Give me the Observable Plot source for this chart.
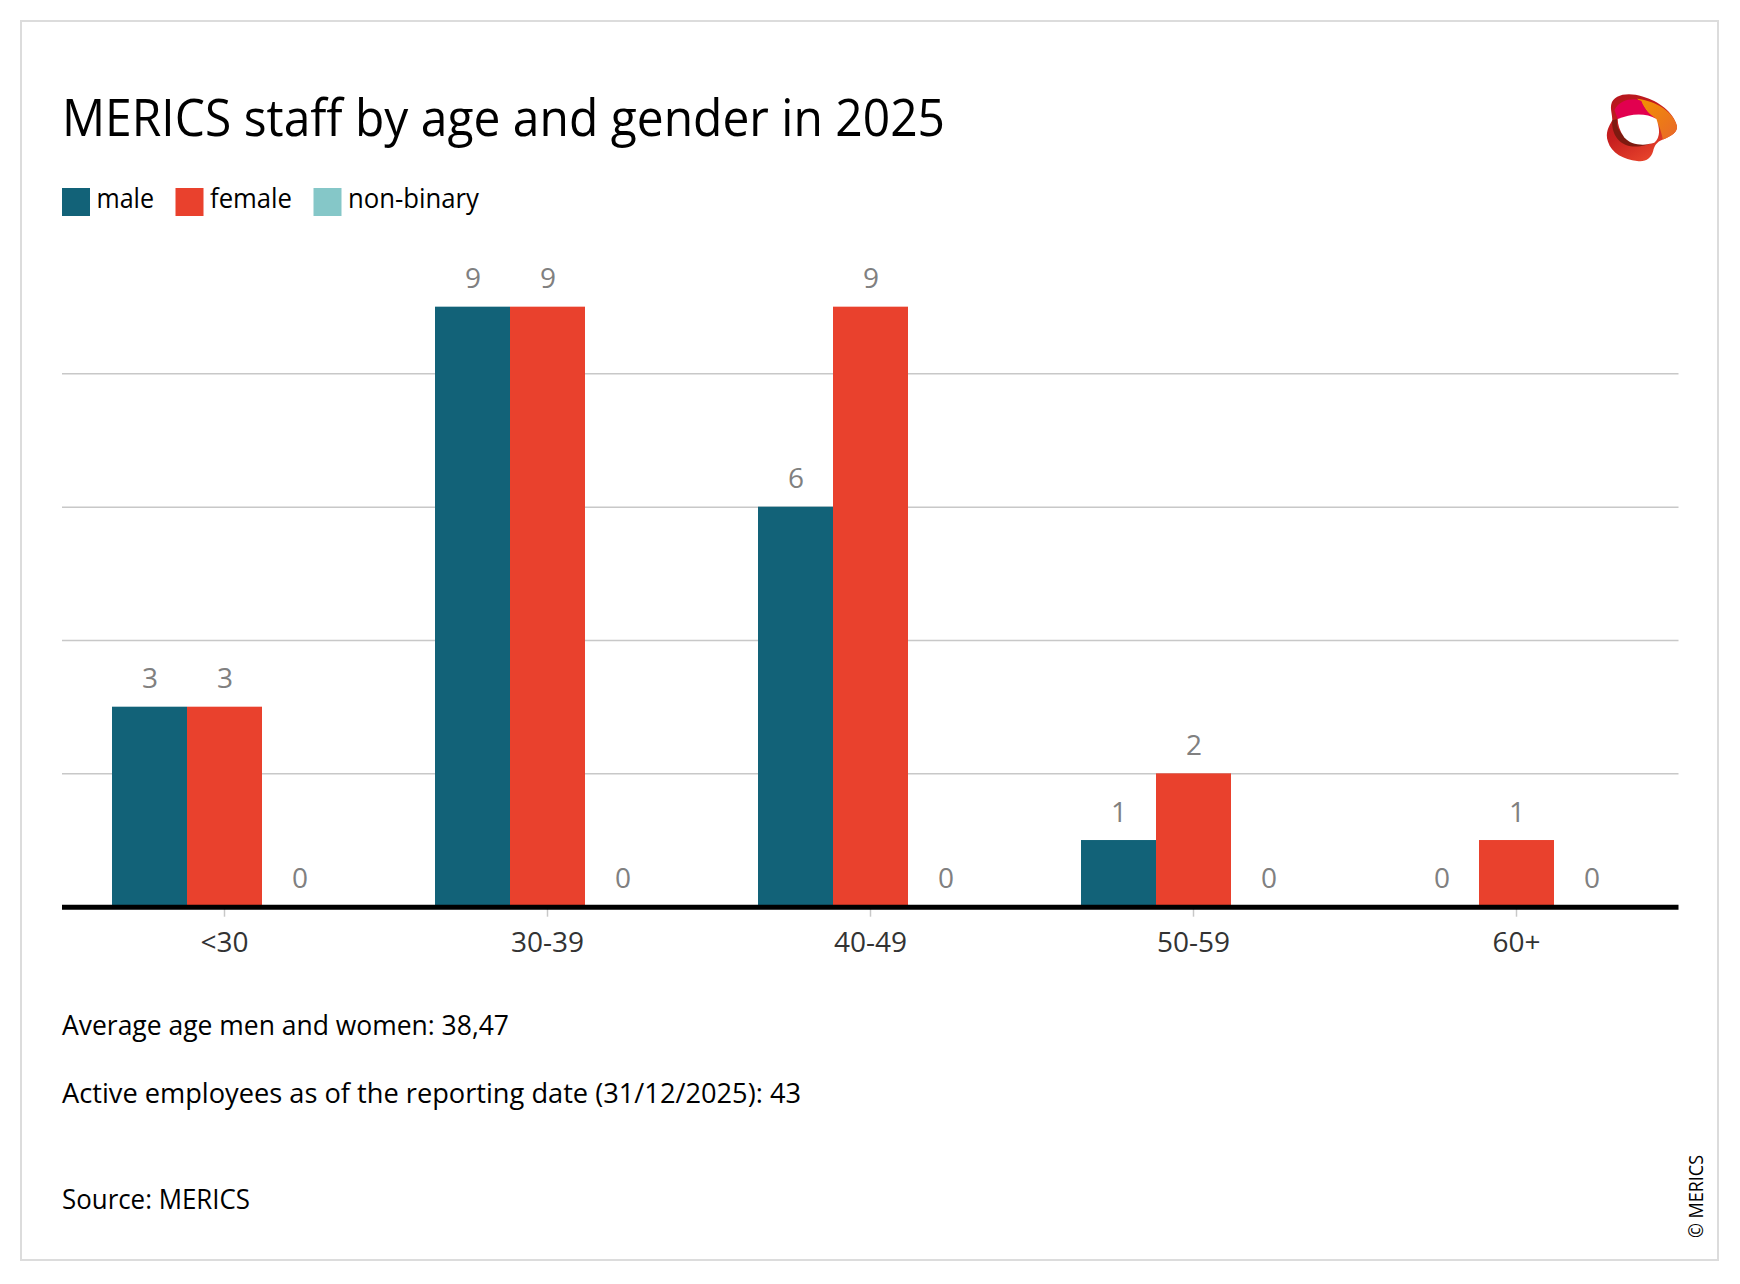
<!DOCTYPE html>
<html><head><meta charset="utf-8">
<script src="https://cdn.jsdelivr.net/npm/d3@7"></script>
<script src="https://cdn.jsdelivr.net/npm/@observablehq/plot@0.6"></script>
<style>
html,body{margin:0;padding:0;background:#fff;}
body{width:1740px;height:1284px;position:relative;overflow:hidden;font-family:"Open Sans",sans-serif;}
#frame{position:absolute;left:20px;top:20px;width:1695px;height:1237px;border:2px solid #dcdcdc;}
.layer{position:absolute;left:0;top:230px;}
.layer svg{display:block;}
#overlay{position:absolute;left:0;top:0;pointer-events:none;}
</style></head><body>
<div id="frame"></div>
<div id="grid" class="layer"></div>
<div id="chart" class="layer"></div>
<div id="base" class="layer"></div>
<svg id="overlay" width="1740" height="1284" xmlns="http://www.w3.org/2000/svg"></svg>
<script>
// ---- data ----
const ageGroups = ["<30", "30-39", "40-49", "50-59", "60+"];
const genders = ["male", "female", "non-binary"];
const genderColors = ["#126278", "#e9412d", "#85c7c8"];
const male = [3, 9, 6, 1, 0];
const female = [3, 9, 9, 2, 1];
const nonBinary = [0, 0, 0, 0, 0];
const yGrid = [2, 4, 6, 8];
const titleText = "MERICS staff by age and gender in 2025";
const noteLines = ["Average age men and women: 38,47", "Active employees as of the reporting date (31/12/2025): 43"];
const sourceText = "Source: MERICS";
const copyrightText = "© MERICS";

const seriesByGender = {"male": male, "female": female, "non-binary": nonBinary};
const rows = ageGroups.flatMap((g, i) => genders.map(s => ({group: g, gender: s, value: seriesByGender[s][i]})));

// ---- shared layout ----
const frameOpts = {
  width: 1740,
  height: 760,
  marginLeft: 62,
  marginRight: 61.5,
  marginTop: 10,
  marginBottom: 83.3,
  style: {fontFamily: "'Open Sans', sans-serif", background: "transparent", overflow: "visible"},
  y: {domain: [0, 10], axis: null}
};
const legendTextWidths = [57.5, 82, 131];

// background: horizontal gridlines
document.getElementById("grid").appendChild(Plot.plot({
  ...frameOpts,
  x: {axis: null},
  marks: [Plot.ruleY(yGrid, {stroke: "#c8c8c8", strokeWidth: 1.5})]
}));

// main: grouped bars
document.getElementById("chart").appendChild(Plot.plot({
  ...frameOpts,
  fx: {domain: ageGroups, paddingInner: 0.3, paddingOuter: 0.15, label: null},
  x: {domain: genders, padding: 0, axis: null},
  color: {domain: genders, range: genderColors},
  marks: [
    Plot.barY(rows, {fx: "group", x: "gender", y: "value", fill: "gender"}),
    Plot.text(rows, {fx: "group", x: "gender", y: "value", text: d => String(d.value), dy: -19, lineAnchor: "bottom", fill: "#808080", fontSize: 28}),
    Plot.axisFx({anchor: "bottom", tickSize: 10, tickPadding: 15, stroke: "#c8c8c8", strokeWidth: 1.5, fill: "#333", fontSize: 28, label: null})
  ]
}));

// foreground: zero baseline
document.getElementById("base").appendChild(Plot.plot({
  ...frameOpts,
  x: {axis: null},
  marks: [Plot.ruleY([0], {stroke: "#000", strokeWidth: 5})]
}));

// ---- overlay texts, legend, logo ----
const NS = "http://www.w3.org/2000/svg";
const ov = document.getElementById("overlay");
function addText(str, x, y, size, fill, target, attrs) {
  const t = document.createElementNS(NS, "text");
  t.textContent = str;
  t.setAttribute("x", x); t.setAttribute("y", y);
  t.setAttribute("font-size", size);
  t.setAttribute("font-family", "'Open Sans', sans-serif");
  t.setAttribute("fill", fill);
  if (attrs) for (const k in attrs) t.setAttribute(k, attrs[k]);
  ov.appendChild(t);
  if (target) {
    t.setAttribute("textLength", target);
    t.setAttribute("lengthAdjust", "spacingAndGlyphs");
  }
  return t;
}
addText(titleText, 62, 136, 52, "#000", 883);

// legend
let lx = 62;
genders.forEach((g, i) => {
  const r = document.createElementNS(NS, "rect");
  r.setAttribute("x", lx); r.setAttribute("y", 188);
  r.setAttribute("width", 28); r.setAttribute("height", 28);
  r.setAttribute("fill", genderColors[i]);
  ov.appendChild(r);
  addText(g, lx + 34.5, 208, 27, "#000", legendTextWidths[i]);
  lx += 34.5 + legendTextWidths[i] + 21.5;
});

addText(noteLines[0], 62, 1035, 27, "#000", 447);
addText(noteLines[1], 62, 1103, 27, "#000", 739);
addText(sourceText, 62, 1209, 27, "#000", 188);
addText(copyrightText, 0, 0, 20, "#000", 83, {transform: "translate(1703,1238) rotate(-90)"});

// logo (decorative)
const logo = document.createElementNS(NS, "g");
logo.setAttribute("transform", "translate(1600,85) translate(8,7) scale(1.077,1.13) translate(-13,-6)");
logo.innerHTML = `
<defs><linearGradient id="lg1" x1="0" y1="0" x2="0.6" y2="1">
<stop offset="0" stop-color="#b3141d"/><stop offset="0.55" stop-color="#c8201f"/><stop offset="1" stop-color="#e8452c"/></linearGradient>
<linearGradient id="lg2" x1="0" y1="0" x2="1" y2="1"><stop offset="0" stop-color="#f39200"/><stop offset="1" stop-color="#e8682a"/></linearGradient></defs>
<path d="M16,17 C18,8 32,6 45,10 C60,14 74,24 77,36 C78,41 72,45 64,48 C58,50 56,54 55,58 C53,65 48,68 40,67 C28,66 16,60 13,50 C10,42 14,36 17,31 C17,26 15,21 16,17 Z" fill="url(#lg1)"/>
<path d="M40,12 C58,14 74,24 77,36 C78,41 72,45 64,48 C62,40 60,32 54,28 C48,24 46,16 40,12 Z" fill="url(#lg2)"/>
<path d="M19,22 C24,12 38,11 44,14 C47,22 52,26 58,30 C50,26 34,26 22,30 Z" fill="#e2004f"/>
<path d="M17,31 C16,42 22,52 34,54 C42,55 50,53 55,50 C48,52 36,52 28,45 C22,40 20,34 22,30 Z" fill="#7d1a10"/>
<path d="M22,30 C34,25 48,24 58,30 C61,38 62,46 56,51 C46,54 34,53 28,46 C24,41 22,35 22,30 Z" fill="#fff"/>`;
ov.appendChild(logo);
</script>
</body></html>
